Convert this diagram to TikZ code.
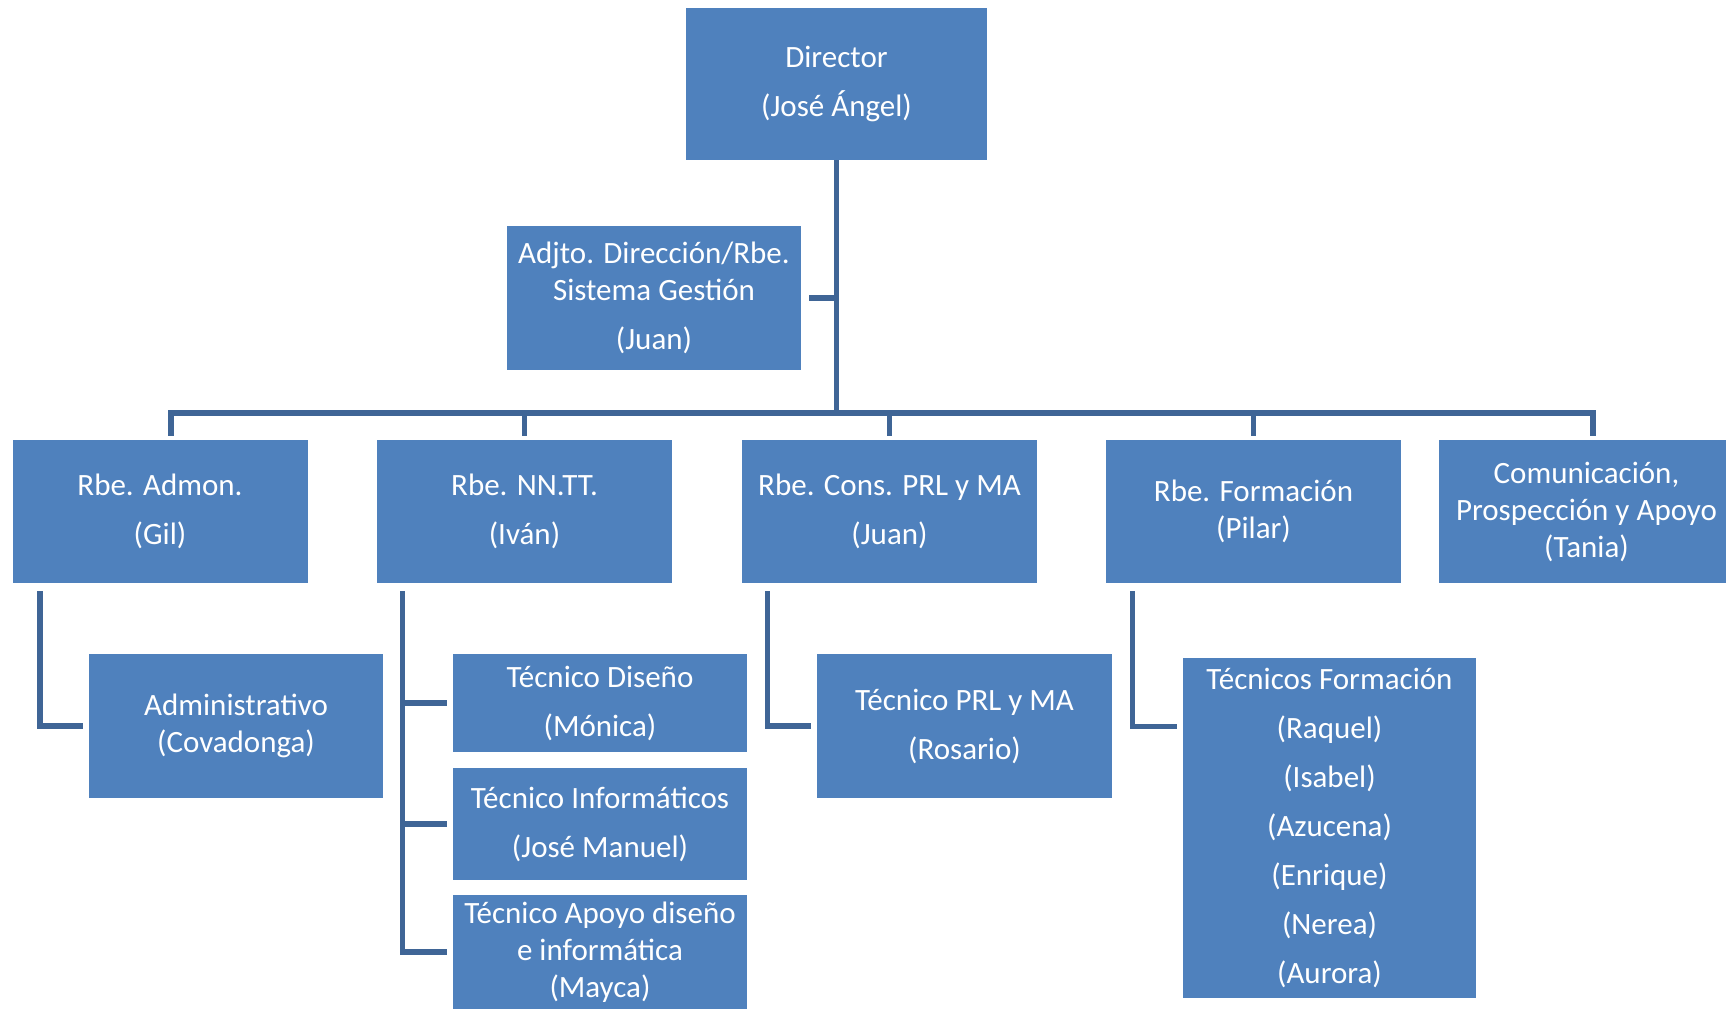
\documentclass[tikz,border=0pt]{standalone}
\usepackage{fontspec}
\setmainfont{Carlito}
\usetikzlibrary{positioning}
\definecolor{boxblue}{HTML}{4F81BD}
\definecolor{lineblue}{HTML}{3F6596}

\begin{document}
\begin{tikzpicture}[x=0.5pt,y=-0.5pt,
    box/.style={fill=boxblue,text=white,align=center,inner sep=0pt,
      font=\fontsize{15.5}{18.5}\selectfont},
    topbox/.style={box,minimum width=147.5pt,minimum height=71.5pt},
    conn/.style={draw=lineblue,line width=2.75pt}]
  \useasboundingbox (0,0) rectangle (1726,1009);
  % top
  \node[box,minimum width=150.5pt,minimum height=76pt] (dir) at (836.5,84) {Director\\[6pt](José Ángel)};
  \node[box,minimum width=147pt,minimum height=72pt] (adj) at (654,298) {Adjto. Dirección/Rbe.\\Sistema Gestión\\[6pt](Juan)};
  % second row
  \node[topbox] (admon) at (160,511.5) {Rbe. Admon.\\[6pt](Gil)};
  \node[topbox] (nntt) at (524.5,511.5) {Rbe. NN.TT.\\[6pt](Iván)};
  \node[topbox] (cons) at (889.5,511.5) {Rbe. Cons. PRL y MA\\[6pt](Juan)};
  \node[topbox] (form) at (1253.5,511.5) {Rbe. Formación\\(Pilar)};
  \node[topbox] (com) at (1586.5,511.5) {Comunicación,\\Prospección y Apoyo\\(Tania)};
  % third row
  \node[box,minimum width=147pt,minimum height=72pt] (admin) at (236,726) {Administrativo\\(Covadonga)};
  \node[box,minimum width=147pt,minimum height=49pt] (diseno) at (600,703) {Técnico Diseño\\[6pt](Mónica)};
  \node[box,minimum width=147pt,minimum height=56pt] (inform) at (600,824) {Técnico Informáticos\\[6pt](José Manuel)};
  \node[box,minimum width=147pt,minimum height=57pt] (apoyo) at (600,952) {Técnico Apoyo diseño\\e informática\\(Mayca)};
  \node[box,minimum width=147.5pt,minimum height=72pt] (prl) at (964.5,726) {Técnico PRL y MA\\[6pt](Rosario)};
  \node[box,minimum width=146.5pt,minimum height=170pt] (tecform) at (1329.5,828) {Técnicos Formación\\[6pt](Raquel)\\[6pt](Isabel)\\[6pt](Azucena)\\[6pt](Enrique)\\[6pt](Nerea)\\[6pt](Aurora)};
  % connectors
  \coordinate (bus) at (836.5,413);
  \draw[conn] (dir.south) -- (bus);
  \draw[conn,shorten <=4pt] (adj.east) -- (adj.east -| bus);
  \draw[conn,shorten >=2pt] (bus) -| ([shift={(11,0)}]admon.north);
  \foreach \n in {nntt,cons,form}
    \draw[conn,shorten >=2pt] (bus) -| (\n.north);
  \draw[conn,shorten >=2pt] (bus) -| ([shift={(6.5,0)}]com.north);
  \draw[conn,shorten >=3pt] ([shift={(28,8)}]admon.south west) |- (admin.west);
  \foreach \n in {diseno,inform,apoyo}
    \draw[conn,shorten >=3pt] ([shift={(26,8)}]nntt.south west) |- (\n.west);
  \draw[conn,shorten >=3pt] ([shift={(26,8)}]cons.south west) |- (prl.west);
  \draw[conn,shorten >=3pt] ([shift={(27,8)}]form.south west) |- ([shift={(0,69)}]tecform.north west);
\end{tikzpicture}
\end{document}
